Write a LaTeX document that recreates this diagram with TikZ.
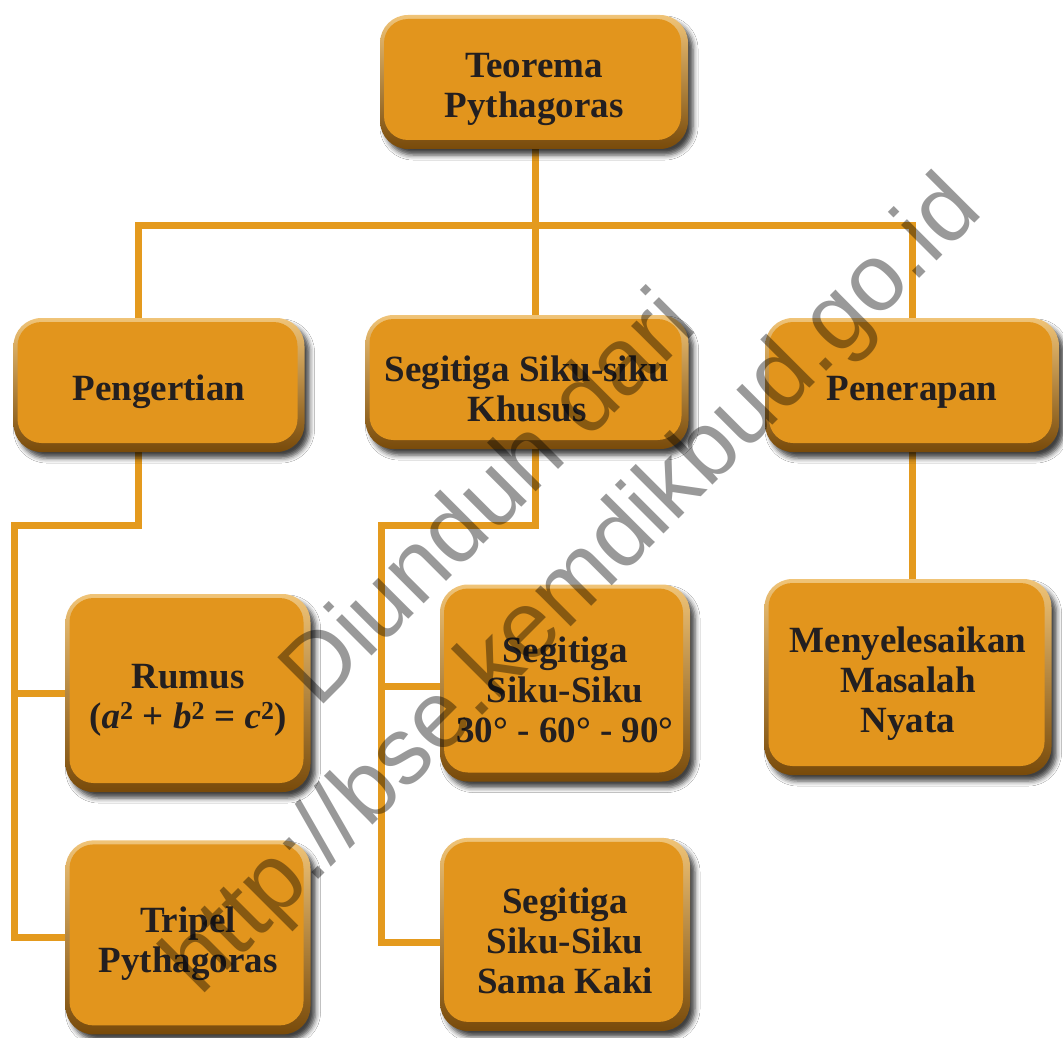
\documentclass[tikz,border=0pt]{standalone}
\usepackage{fontspec}
\setmainfont{Liberation Serif}
\newfontfamily\markfont{Liberation Sans}
\usepackage{tikz}
\usetikzlibrary{positioning,backgrounds,shadows.blur}
\newcommand{\createlength}[2]{\newlength{#1}\setlength{#1}{#2}}
\newcommand{\topstrut}{\rule{0pt}{39pt}}
\definecolor{boxorange}{RGB}{226,149,29}
\definecolor{boxlight}{RGB}{240,196,120}
\definecolor{boxdark}{RGB}{120,74,10}
\definecolor{linkorange}{RGB}{228,154,30}
\definecolor{boxtext}{RGB}{35,31,32}
\tikzset{
  conceptbox/.style={rounded corners=28pt, inner sep=0pt, align=center,
    text=boxtext, font=\fontsize{37}{40}\selectfont\bfseries,
    top color=boxlight, bottom color=boxdark,
    blur shadow={shadow xshift=5pt, shadow yshift=-6pt, shadow blur radius=5pt, shadow opacity=75},
    path picture={\fill[boxorange, rounded corners=24pt]
      ([shift={(4pt,-4pt)}]path picture bounding box.north west) rectangle
      ([shift={(-7pt,9pt)}]path picture bounding box.south east);}},
  link/.style={draw=linkorange, line width=7pt},
  watermark/.style={rotate=45, text=black, text opacity=0.4,
    font=\markfont\fontsize{95}{114}\selectfont}
}

\begin{document}
\begin{tikzpicture}[x=1pt,y=-1pt]
\createlength{\boxgap}{48pt}
\useasboundingbox (0,0) rectangle (1063,1038);
%%%%%%%%%%%%%%%%%%%%%%%%%%%%
%%%%%%%%% Level 0. %%%%%%%%%
%%%%%%%%%%%%%%%%%%%%%%%%%%%%
\node[conceptbox, minimum width=308pt, minimum height=134pt] (teorema) at (534,82) {\topstrut Teorema\\Pythagoras};
%%%%%%%%%%%%%%%%%%%%%%%%%%%%
%%%%%%%%% Level 1. %%%%%%%%%
%%%%%%%%%%%%%%%%%%%%%%%%%%%%
\node[conceptbox, minimum width=291pt, minimum height=134pt] (pengertian) at (159,385) {\topstrut Pengertian};
\node[conceptbox, minimum width=323pt, minimum height=134pt] (khusus) at (527,382) {\topstrut Segitiga Siku-siku\\Khusus};
\node[conceptbox, minimum width=294pt, minimum height=134pt] (penerapan) at (912,385) {\topstrut Penerapan};
%%%%%%%%%%%%%%%%%%%%%%%%%%%%
%%%%%%%%% Level 2. %%%%%%%%%
%%%%%%%%%%%%%%%%%%%%%%%%%%%%
\node[conceptbox, minimum width=245pt, minimum height=198pt] (rumus) at (188,693)
  {\topstrut Rumus\\(\textit{a}\textsuperscript{2} + \textit{b}\textsuperscript{2} = \textit{c}\textsuperscript{2})};
\node[conceptbox, minimum width=245pt, minimum height=194pt, below=\boxgap of rumus] (tripel) {\topstrut Tripel\\Pythagoras};
\node[conceptbox, minimum width=250pt, minimum height=197pt] (siku) at (565,683) {\topstrut Segitiga\\Siku-Siku\\30° - 60° - 90°};
\node[conceptbox, minimum width=250pt, minimum height=193pt, below=56pt of siku] (samakaki) {\topstrut Segitiga\\Siku-Siku\\Sama Kaki};
\node[conceptbox, minimum width=287pt, minimum height=196pt] (nyata) at (908,677) {\topstrut Menyelesaikan\\Masalah\\Nyata};
%%%%%%%%%%%%%%%%%%%%%%%%%%%%
%%%%%%%%% Links. %%%%%%%%%%%
%%%%%%%%%%%%%%%%%%%%%%%%%%%%
\coordinate (hub) at (535,225);
\coordinate (pengbus) at (14,525);
\coordinate (khususbus) at (381,525);
\coordinate (sikuin) at ([yshift=-3pt]siku.west);
\begin{scope}[on background layer]
\fill[white] (0,0) rectangle (1063,1038);
\draw[link] (teorema.south -| hub) -- (hub |- khusus.north);
\draw[link] ([xshift=-21pt]pengertian.north) |- (hub) -| (penerapan.north);
\draw[link] ([xshift=-21pt]pengertian.south) |- (pengbus) |- (tripel.west);
\draw[link] (pengbus |- rumus.west) -- (rumus.west);
\draw[link] ([xshift=8pt]khusus.south) |- (khususbus) |- ([yshift=-8pt]samakaki.west);
\draw[link] (khususbus |- sikuin) -- (sikuin);
\draw[link] (penerapan.south) -- (penerapan.south |- nyata.north);
\end{scope}
%%%%%%%%%%%%%%%%%%%%%%%%%%%%
%%%%%%%%% Watermark. %%%%%%%
%%%%%%%%%%%%%%%%%%%%%%%%%%%%
\node[watermark] (dari) at (485,495) {Diunduh dari};
\node[watermark] (bse) at (575,588) {http://bse.kemdikbud.go.id};
\end{tikzpicture}
\end{document}
